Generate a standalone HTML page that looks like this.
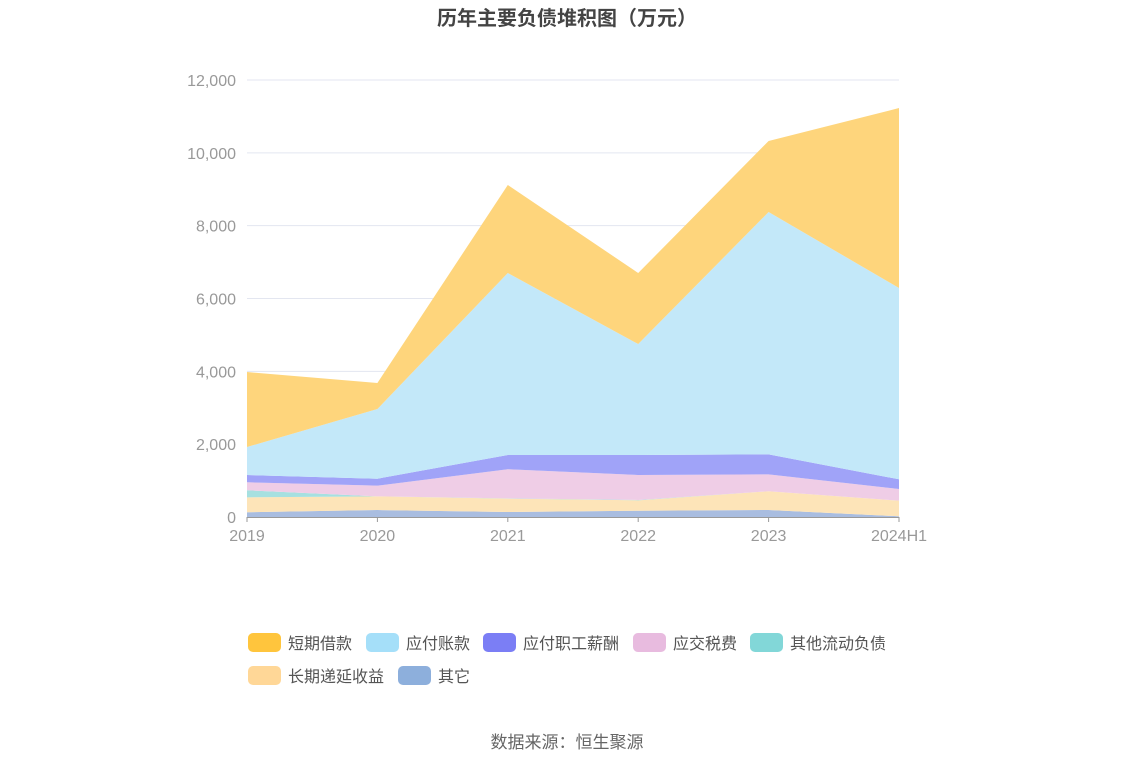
<!DOCTYPE html>
<html><head><meta charset="utf-8"><style>
body{margin:0;background:#fff;font-family:"Liberation Sans","Noto Sans CJK SC",sans-serif;}
</style></head><body>
<svg width="1134" height="766" xmlns="http://www.w3.org/2000/svg" font-family="Liberation Sans, Noto Sans CJK SC, sans-serif">
<text x="567" y="25" text-anchor="middle" font-size="20" font-weight="bold" fill="#444">历年主要负债堆积图（万元）</text>
<g id="grid"></g><g id="areas"></g><g id="axes"></g><g id="legend"></g>
<text x="567" y="748" text-anchor="middle" font-size="17" fill="#666">数据来源：恒生聚源</text>
</svg>
<script>
const categories=["2019","2020","2021","2022","2023","2024H1"];
const seriesNames=["其它","长期递延收益","其他流动负债","应交税费","应付职工薪酬","应付账款","短期借款"];
const other=[130,192,137,173,192,20];
const deferredIncome=[410,376,366,285,514,428];
const otherCurrent=[193,0,10,10,0,0];
const taxPayable=[220,292,797,685,466,321];
const payroll=[200,192,392,549,549,266];
const accountsPayable=[769,1914,4998,3048,6654,5253];
const shortLoans=[2059,714,2418,1950,1950,4942];
const yTicks=[0,2000,4000,6000,8000,10000,12000];
const series=[other,deferredIncome,otherCurrent,taxPayable,payroll,accountsPayable,shortLoans];
const fills=["#a9bde0","#fde4b8","#a6e0e0","#efcde6","#a0a3f8","#c3e8f9","#fed57c"];
const swatch=["#ffc53d","#a5dff9","#7b7ef5","#e8bbdf","#82d7d8","#ffd797","#8dafdc"];
const legendNames=["短期借款","应付账款","应付职工薪酬","应交税费","其他流动负债","长期递延收益","其它"];
const NS="http://www.w3.org/2000/svg";
const x0=247,x1=899,y0=517,yTop=80;
const xS=i=>x0+(x1-x0)*i/(categories.length-1);
const yS=v=>y0-(y0-yTop)*v/12000;
function mk(t,a,p){const e=document.createElementNS(NS,t);for(const k in a)e.setAttribute(k,a[k]);p.appendChild(e);return e;}
const grid=document.getElementById('grid'),axes=document.getElementById('axes'),areas=document.getElementById('areas'),leg=document.getElementById('legend');
yTicks.forEach(v=>{
 if(v>0){const l=mk('line',{x1:x0,x2:x1,y1:yS(v),y2:yS(v),stroke:'#e3e6f0'},grid);
 
 }
 const t=mk('text',{x:236,y:yS(v)+6,'text-anchor':'end','font-size':16,fill:'#999'},axes);
 t.textContent=v.toLocaleString('en-US');
 
 
});
let lower=categories.map(()=>0);
series.forEach((s,k)=>{
 const upper=lower.map((l,i)=>l+s[i]);
 let pts=upper.map((u,i)=>xS(i)+','+yS(u));
 for(let i=categories.length-1;i>=0;i--)pts.push(xS(i)+','+yS(lower[i]));
 const p=mk('polygon',{points:pts.join(' '),fill:fills[k]},areas);
 
 
 lower=upper;
});
const ax=mk('line',{x1:x0,x2:x1,y1:y0+0.5,y2:y0+0.5,stroke:'#999'},axes);


categories.forEach((c,i)=>{
 const tk=mk('line',{x1:xS(i),x2:xS(i),y1:y0,y2:y0+5,stroke:'#999'},axes);
 
 
 const t=mk('text',{x:xS(i),y:541,'text-anchor':'middle','font-size':16,fill:'#999'},axes);
 t.textContent=c;
 
 
});
const lpos=[[248,643],[366,643],[483,643],[633,643],[750,643],[248,676],[398,676]];
legendNames.forEach((n,i)=>{
 const g=mk('g',{},leg);
 
 
 mk('rect',{x:lpos[i][0],y:lpos[i][1]-10,width:33,height:19,rx:5,fill:swatch[i]},g);
 const t=mk('text',{x:lpos[i][0]+40,y:lpos[i][1]+6,'font-size':16,fill:'#555'},g);
 t.textContent=n;
});
</script>
</body></html>
